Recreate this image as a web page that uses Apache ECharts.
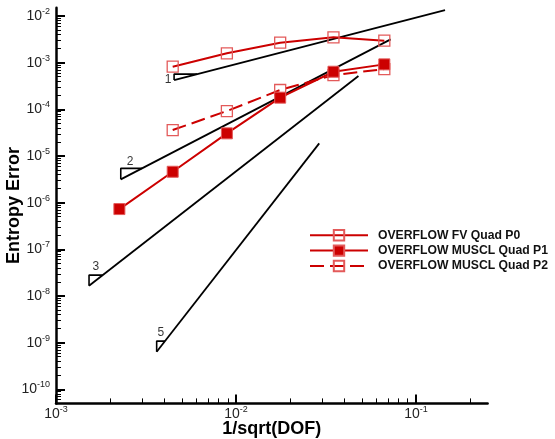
<!DOCTYPE html>
<html><head><meta charset="utf-8">
<script src="https://cdn.jsdelivr.net/npm/echarts@6/dist/echarts.min.js"></script>
<style>html,body{margin:0;padding:0;background:#fff}#c{width:555px;height:439px}</style>
</head><body><div id="c"></div>
<script>
// ---- data (raw values, plotted on log10 scales) ----
const seriesNames = ['OVERFLOW FV Quad P0', 'OVERFLOW MUSCL Quad P1', 'OVERFLOW MUSCL Quad P2'];
const xP0 = [0.00445, 0.0089, 0.0176, 0.0348, 0.0667];
const errP0 = [8.2e-4, 1.59e-3, 2.68e-3, 3.5e-3, 2.96e-3];
const xP1 = [0.00225, 0.00445, 0.0089, 0.0176, 0.0348, 0.0667];
const errP1 = [7.3e-7, 4.6e-6, 3.06e-5, 1.78e-4, 6.4e-4, 9.2e-4];
const xP2 = [0.00445, 0.0089, 0.0176, 0.0348, 0.0667];
const errP2 = [3.6e-5, 9.2e-5, 2.6e-4, 5.4e-4, 7.3e-4];

const slopeOrders = ['1', '2', '3', '5'];
const slopeStart = [[0.00453, 4.25e-4], [0.00229, 3.16e-6], [0.001526, 1.66e-8], [0.003625, 6.4e-10]];
const slopeEnd = [[0.145, 0.01345], [0.0723, 3.16e-3], [0.0479, 5.2e-4], [0.029, 1.87e-5]];
const triangleRise = [1.34, 1.72, 1.69, 1.69];
const slopeLabelAt = [[0.00419, 4.26e-4], [0.002576, 7.55e-6], [0.001663, 4.25e-8], [0.003828, 1.64e-9]];

const xMin = 1e-3, xMax = 0.25, yMin = 5e-11, yMax = 0.015;
const xMajor = [1e-3, 1e-2, 1e-1];
const yMajor = [1e-10, 1e-9, 1e-8, 1e-7, 1e-6, 1e-5, 1e-4, 1e-3, 1e-2];

// ---- helpers ----
const L = Math.log10;
function minorTicks(lo, hi) {
  const out = [];
  for (let e = Math.floor(L(lo)); e <= Math.ceil(L(hi)); e++) {
    for (let k = 2; k <= 9; k++) {
      const v = k * Math.pow(10, e);
      if (v > lo * 1.0001 && v < hi * 0.9999) out.push(L(v));
    }
  }
  return out;
}
const zip = (xs, ys) => xs.map((x, i) => [L(x), L(ys[i])]);
const FONT = 'Liberation Sans';
const labelFmt = v => '{b|10}{s|' + Math.round(v) + '}';
const labelRich = {
  b: { fontSize: 14, fontFamily: FONT, color: '#222', lineHeight: 18 },
  s: { fontSize: 9, fontFamily: FONT, color: '#222', verticalAlign: 'top', lineHeight: 10 }
};

const series = [];
slopeOrders.forEach((o, i) => {
  const [x0, y0] = slopeStart[i], [x1, y1] = slopeEnd[i];
  const s = (L(y1) - L(y0)) / (L(x1) - L(x0));
  const K = triangleRise[i];
  series.push({
    type: 'line', data: [[L(x0), L(y0)], [L(x1), L(y1)]], symbol: 'none', silent: true,
    lineStyle: { color: '#000', width: 1.8 }, z: 2
  });
  series.push({
    type: 'line', data: [[L(x0), L(y0)], [L(x0), L(y0 * K)], [L(x0 * Math.pow(K, 1 / s)), L(y0 * K)]],
    symbol: 'none', silent: true, lineStyle: { color: '#000', width: 1.6 }, z: 2
  });
});
series.push({
  type: 'scatter', silent: true, symbolSize: 0, z: 3,
  data: slopeOrders.map((o, i) => ({ name: o, value: [L(slopeLabelAt[i][0]), L(slopeLabelAt[i][1])] })),
  label: { show: true, position: 'inside', formatter: '{b}', color: '#000', fontSize: 12, fontFamily: FONT }
});
series.push({
  name: seriesNames[0], type: 'line', data: zip(xP0, errP0), symbol: 'rect', symbolSize: 11, z: 5,
  lineStyle: { color: '#cc0000', width: 2 },
  itemStyle: { color: 'rgba(255,255,255,0)', borderColor: '#e35a5a', borderWidth: 1.3 }
});
series.push({
  name: seriesNames[1], type: 'line', data: zip(xP1, errP1), symbol: 'rect', symbolSize: 11, z: 6,
  lineStyle: { color: '#cc0000', width: 2 },
  itemStyle: { color: '#cc0000', borderColor: '#e35a5a', borderWidth: 1 }
});
series.push({
  name: seriesNames[2], type: 'line', data: zip(xP2, errP2), symbol: 'rect', symbolSize: 11, z: 4,
  lineStyle: { color: '#cc0000', width: 2, type: [14, 6] },
  itemStyle: { color: 'rgba(255,255,255,0)', borderColor: '#e35a5a', borderWidth: 1.3 }
});

const chart = echarts.init(document.getElementById('c'), null, { renderer: 'canvas' });
chart.setOption({
  animation: false,
  backgroundColor: '#fff',
  grid: { left: 56, top: 7.8, width: 431.6, height: 395.6, containLabel: false, outerBoundsMode: 'none' },
  legend: {
    left: 304, top: 224, orient: 'vertical', itemWidth: 58, itemHeight: 13, itemGap: 3,
    data: seriesNames, selectedMode: false,
    textStyle: { fontFamily: FONT, fontWeight: 'bold', fontSize: 12.2, color: '#111', padding: [0, 0, 0, 5] }
  },
  xAxis: [{
    type: 'value', min: L(xMin), max: L(xMax), position: 'bottom',
    axisLine: { show: true, onZero: false, lineStyle: { color: '#000', width: 2.5 } },
    splitLine: { show: false },
    axisTick: { show: true, inside: true, length: 9, lineStyle: { color: '#000', width: 2 }, customValues: xMajor.map(L) },
    axisLabel: { customValues: xMajor.map(L), formatter: labelFmt, rich: labelRich, margin: 2 },
    name: '1/sqrt(DOF)', nameLocation: 'middle', nameGap: 17, nameMoveOverlap: false,
    nameTextStyle: { fontFamily: FONT, fontWeight: 'bold', fontSize: 18, color: '#000' }
  }, {
    type: 'value', min: L(xMin), max: L(xMax), position: 'bottom',
    axisLine: { show: false }, splitLine: { show: false }, axisLabel: { show: false },
    axisTick: { show: true, inside: true, length: 5, lineStyle: { color: '#000', width: 1 }, customValues: minorTicks(xMin, xMax) }
  }],
  yAxis: [{
    type: 'value', min: L(yMin), max: L(yMax), position: 'left',
    axisLine: { show: true, onZero: false, lineStyle: { color: '#000', width: 2.5 } },
    splitLine: { show: false },
    axisTick: { show: true, inside: true, length: 9, lineStyle: { color: '#000', width: 2 }, customValues: yMajor.map(L) },
    axisLabel: { customValues: yMajor.map(L), formatter: labelFmt, rich: labelRich, margin: 6 },
    name: 'Entropy Error', nameLocation: 'middle', nameGap: 33, nameRotate: 90, nameMoveOverlap: false,
    nameTextStyle: { fontFamily: FONT, fontWeight: 'bold', fontSize: 18, color: '#000' }
  }, {
    type: 'value', min: L(yMin), max: L(yMax), position: 'left',
    axisLine: { show: false }, splitLine: { show: false }, axisLabel: { show: false },
    axisTick: { show: true, inside: true, length: 5, lineStyle: { color: '#000', width: 1 }, customValues: minorTicks(yMin, yMax) }
  }],
  series: series
});
</script></body></html>
